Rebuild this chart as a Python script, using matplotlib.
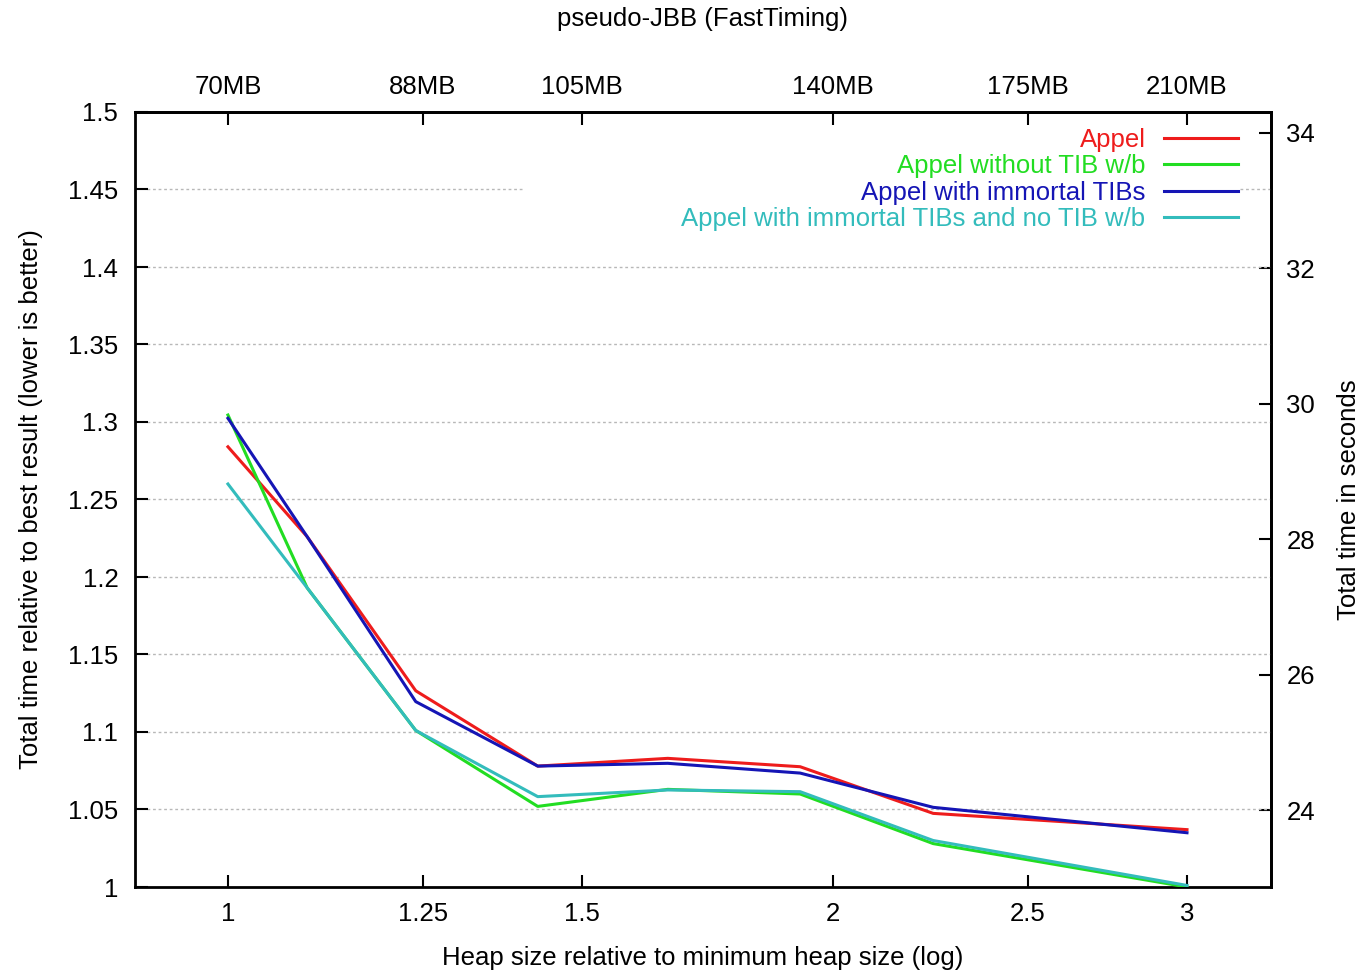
import numpy as np
import matplotlib.pyplot as plt
from matplotlib.ticker import FixedLocator, FixedFormatter, NullLocator

plt.rcParams['font.family'] = ['Liberation Sans', 'DejaVu Sans']

# heap size relative to minimum heap size
heap = [1.0, 1.095, 1.24, 1.426, 1.655, 1.926, 2.243, 3.0]

# total time relative to best result
appel = [1.284, 1.226, 1.1266, 1.078, 1.083, 1.0776, 1.0475, 1.037]
appel_no_wb = [1.3045, 1.193, 1.101, 1.052, 1.063, 1.060, 1.028, 1.0]
appel_immortal = [1.3024, 1.226, 1.1196, 1.078, 1.0798, 1.0735, 1.0514, 1.035]
appel_immortal_no_wb = [1.26, 1.193, 1.101, 1.0583, 1.0626, 1.0615, 1.030, 1.001]

series_names = ["Appel", "Appel without TIB w/b", "Appel with immortal TIBs",
                "Appel with immortal TIBs and no TIB w/b"]
series_colors = ["#ee1c1c", "#22dd22", "#1515b5", "#33bcbc"]

x_ticks = [1, 1.25, 1.5, 2, 2.5, 3]
x_tick_labels = ["1", "1.25", "1.5", "2", "2.5", "3"]
top_tick_labels = ["70MB", "88MB", "105MB", "140MB", "175MB", "210MB"]
y_ticks = [1, 1.05, 1.1, 1.15, 1.2, 1.25, 1.3, 1.35, 1.4, 1.45, 1.5]
y_tick_labels = ["1", "1.05", "1.1", "1.15", "1.2", "1.25", "1.3", "1.35", "1.4", "1.45", "1.5"]
sec_ticks = [24, 26, 28, 30, 32, 34]
best_time = 22.87  # seconds for relative value 1

fs = 18.5
fig = plt.figure(figsize=(13.61, 9.71), dpi=100)
ax = fig.add_axes([135 / 1361, 1 - 887 / 971, (1271 - 135) / 1361, (887 - 112) / 971])

ax.set_xscale('log')
ax.set_xlim(0.899, 3.303)
ax.set_ylim(1.0, 1.5)

# grid lines (the key area hides part of the 1.45 line)
ytr = ax.get_yaxis_transform()
for yv in y_ticks[1:-1]:
    if yv == 1.45:
        ax.plot([0.011, 0.3415], [yv, yv], transform=ytr, color='#b8b8b8', lw=1, ls=(0, (2, 2)), zorder=1)
        ax.plot([0.9727, 1.0], [yv, yv], transform=ytr, color='#b8b8b8', lw=1, ls=(0, (2, 2)), zorder=1)
    else:
        ax.plot([0.011, 1.0], [yv, yv], transform=ytr, color='#b8b8b8', lw=1, ls=(0, (2, 2)), zorder=1)

for ys, name, col in zip([appel, appel_no_wb, appel_immortal, appel_immortal_no_wb],
                         series_names, series_colors):
    ax.plot(heap, ys, color=col, lw=2.2, label=name, zorder=3)

ax.xaxis.set_major_locator(FixedLocator(x_ticks))
ax.xaxis.set_major_formatter(FixedFormatter(x_tick_labels))
ax.xaxis.set_minor_locator(NullLocator())
ax.yaxis.set_major_locator(FixedLocator(y_ticks))
ax.yaxis.set_major_formatter(FixedFormatter(y_tick_labels))

ax.tick_params(axis='x', direction='in', length=9, width=1.5, labelsize=fs, pad=11)
ax.tick_params(axis='y', direction='in', length=9, width=1.5, labelsize=fs, pad=12)
for sp in ax.spines.values():
    sp.set_linewidth(2)

# top axis with heap sizes in MB
top = ax.secondary_xaxis('top')
top.xaxis.set_major_locator(FixedLocator(x_ticks))
top.xaxis.set_major_formatter(FixedFormatter(top_tick_labels))
top.xaxis.set_minor_locator(NullLocator())
top.tick_params(direction='in', length=9, width=1.5, labelsize=fs, pad=9)
top.spines['top'].set_linewidth(2)

# right axis with absolute times
right = ax.secondary_yaxis('right', functions=(lambda v: v * best_time, lambda s: s / best_time))
right.yaxis.set_major_locator(FixedLocator(sec_ticks))
right.yaxis.set_minor_locator(NullLocator())
right.tick_params(direction='in', length=9, width=1.5, labelsize=fs, pad=11)
right.spines['right'].set_linewidth(2)
right.set_ylabel("Total time in seconds", fontsize=fs, labelpad=16)

ax.set_xlabel("Heap size relative to minimum heap size (log)", fontsize=fs, labelpad=14)
ax.set_ylabel("Total time relative to best result (lower is better)", fontsize=fs, labelpad=18)
fig.text(703 / 1361, 1 - 19 / 971, "pseudo-JBB (FastTiming)", fontsize=fs, ha='center', va='center')

leg = ax.legend(loc='upper right', bbox_to_anchor=(0.971, 0.980), frameon=False,
                markerfirst=False, labelcolor='linecolor', fontsize=fs,
                handlelength=2.9, handletextpad=0.7, labelspacing=0.1,
                borderaxespad=0, borderpad=0)

fig.savefig("out.png", dpi=100)
